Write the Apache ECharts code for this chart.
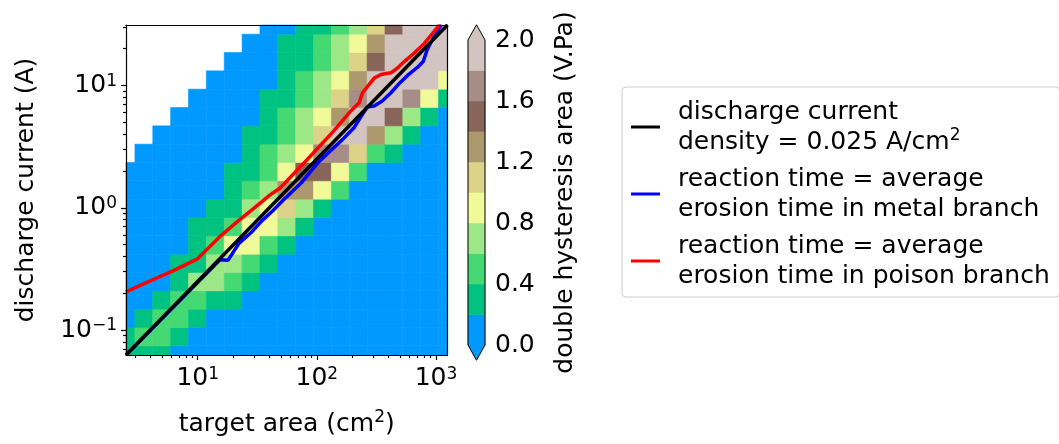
<!DOCTYPE html>
<html>
<head>
<meta charset="utf-8">
<script src="https://cdn.jsdelivr.net/npm/echarts@6/dist/echarts.min.js"></script>
<style>
html, body { margin: 0; padding: 0; background: #fff; }
#chart { width: 1059px; height: 444px; }
</style>
</head>
<body>
<div id="chart"></div>
<script>
'use strict';

// centres of the map cells: target area (cm2) and discharge current (A)
const areaCentres = [2.5, 3.531, 4.987, 7.043, 9.947, 14.05, 19.84, 28.02, 39.58, 55.90,
    78.95, 111.5, 157.5, 222.4, 314.1, 443.6, 626.6, 884.9, 1250];
const currentCentres = [0.0625, 0.08827, 0.1247, 0.1761, 0.2487, 0.3512, 0.4961, 0.7006, 0.9895, 1.398,
    1.974, 2.788, 3.937, 5.560, 7.853, 11.09, 15.66, 22.12, 31.25];

// double hysteresis area (V.Pa), one row per current, lowest current first; null = no data
const hysteresis = [
    [0.3, 0.3, 0.3, 0.1, 0.1, 0.1, 0.1, 0.1, 0.1, 0.1, 0.1, 0.1, 0.1, 0.1, 0.1, 0.1, 0.1, 0.1, 0.1],
    [0.3, 0.5, 0.5, 0.3, 0.1, 0.1, 0.1, 0.1, 0.1, 0.1, 0.1, 0.1, 0.1, 0.1, 0.1, 0.1, 0.1, 0.1, 0.1],
    [0.1, 0.3, 0.5, 0.5, 0.3, 0.1, 0.1, 0.1, 0.1, 0.1, 0.1, 0.1, 0.1, 0.1, 0.1, 0.1, 0.1, 0.1, 0.1],
    [0.1, 0.1, 0.3, 0.5, 0.5, 0.3, 0.3, 0.1, 0.1, 0.1, 0.1, 0.1, 0.1, 0.1, 0.1, 0.1, 0.1, 0.1, 0.1],
    [0.1, 0.1, 0.1, 0.3, 0.7, 0.7, 0.5, 0.3, 0.1, 0.1, 0.1, 0.1, 0.1, 0.1, 0.1, 0.1, 0.1, 0.1, 0.1],
    [0.1, 0.1, 0.1, 0.3, 0.3, 0.7, 0.7, 0.5, 0.3, 0.1, 0.1, 0.1, 0.1, 0.1, 0.1, 0.1, 0.1, 0.1, 0.1],
    [0.1, 0.1, 0.1, 0.1, 0.3, 0.5, 0.9, 0.9, 0.5, 0.3, 0.1, 0.1, 0.1, 0.1, 0.1, 0.1, 0.1, 0.1, 0.1],
    [0.1, 0.1, 0.1, 0.1, 0.3, 0.3, 0.5, 0.9, 0.9, 0.7, 0.3, 0.1, 0.1, 0.1, 0.1, 0.1, 0.1, 0.1, 0.1],
    [0.1, 0.1, 0.1, 0.1, 0.1, 0.3, 0.3, 0.7, 0.9, 1.1, 0.7, 0.3, 0.1, 0.1, 0.1, 0.1, 0.1, 0.1, 0.1],
    [0.1, 0.1, 0.1, 0.1, 0.1, 0.1, 0.3, 0.5, 0.7, 1.3, 1.3, 0.9, 0.5, 0.1, 0.1, 0.1, 0.1, 0.1, 0.1],
    [0.1, 0.1, 0.1, 0.1, 0.1, 0.1, 0.3, 0.3, 0.5, 0.9, 1.5, 1.5, 0.9, 0.5, 0.1, 0.1, 0.1, 0.1, 0.1],
    [null, 0.1, 0.1, 0.1, 0.1, 0.1, 0.1, 0.3, 0.5, 0.7, 0.9, 1.7, 1.7, 1.1, 0.5, 0.3, 0.1, 0.1, 0.1],
    [null, null, 0.1, 0.1, 0.1, 0.1, 0.1, 0.3, 0.3, 0.5, 0.7, 1.1, 1.9, 1.9, 1.3, 0.7, 0.3, 0.1, 0.1],
    [null, null, null, 0.1, 0.1, 0.1, 0.1, 0.1, 0.3, 0.5, 0.7, 0.9, 1.3, 1.9, 1.9, 1.5, 0.7, 0.3, 0.1],
    [null, null, null, null, 0.1, 0.1, 0.1, 0.1, 0.3, 0.3, 0.5, 0.7, 1.1, 1.7, 1.9, 1.9, 1.7, 0.9, 0.3],
    [null, null, null, null, null, 0.1, 0.1, 0.1, 0.1, 0.3, 0.5, 0.7, 0.9, 1.3, 1.9, 1.9, 1.9, 1.9, 0.9],
    [null, null, null, null, null, null, 0.1, 0.1, 0.1, 0.3, 0.3, 0.5, 0.7, 1.1, 1.5, 1.9, 2.0, 2.1, 2.0],
    [null, null, null, null, null, null, null, 0.1, 0.1, 0.3, 0.3, 0.5, 0.7, 0.9, 1.3, 1.9, 2.1, 2.2, 2.1],
    [null, null, null, null, null, null, null, null, 0.1, 0.1, 0.3, 0.3, 0.5, 0.7, 1.1, 1.5, 1.9, 2.2, 2.3],
];

// colour levels of the map
const levels = [0, 0.2, 0.4, 0.6, 0.8, 1.0, 1.2, 1.4, 1.6, 1.8, 2.0];
const levelColors = ['#0099ff', '#00c281', '#44d973', '#9de886', '#f0fa98',
    '#dcd288', '#ae986e', '#876558', '#a68d87', '#d2c5c1'];

// lines
const densityArea = [2.5, 1250];
const densityCurrent = [0.0625, 31.25];
const metalArea = [2.5, 15.4, 18.0, 22.2, 28.1, 34.7, 42.7, 52.1, 62.8, 73.8, 101, 131, 164, 206,
    240, 265, 303, 354, 419, 492, 577, 701, 782, 845, 913, 1006, 1108];
const metalCurrent = [0.0625, 0.376, 0.373, 0.512, 0.628, 0.785, 0.946, 1.15, 1.373, 1.593, 2.31, 2.94,
    3.61, 4.54, 5.76, 6.68, 6.81, 7.47, 8.72, 10.4, 12.1, 14.1, 15.7, 19.7, 22.8, 27.0, 31.3];
const poisonArea = [2.5, 3.54, 6.32, 9.87, 15.1, 21.0, 29.2, 40.5, 49.2, 82.4, 137, 193, 227, 242,
    303, 345, 419, 476, 542, 657, 798, 936, 1066];
const poisonCurrent = [0.2054, 0.2398, 0.3076, 0.3798, 0.572, 0.756, 0.981, 1.274, 1.451, 2.458, 4.20,
    6.20, 7.24, 8.72, 11.5, 12.3, 12.7, 13.9, 15.7, 18.4, 22.1, 26.7, 31.2];

// ticks
const areaTicks = [10, 100, 1000];
const currentTicks = [0.1, 1, 10];

const seriesNames = ['density', 'metal', 'poison'];
const legendLabels = [
    'discharge current\ndensity = 0.025 A/cm{sup|2}',
    'reaction time = average\nerosion time in metal branch',
    'reaction time = average\nerosion time in poison branch',
];

const FONT = 'DejaVu Sans';
const supStyle = { fontSize: 17, fontFamily: FONT, color: '#000', verticalAlign: 'top', lineHeight: 17 };

function minorTicks(lo, hi) {
    const out = [];
    for (let e = Math.floor(Math.log10(lo)); e <= Math.ceil(Math.log10(hi)); e++) {
        for (let m = 2; m <= 9; m++) {
            const v = m * Math.pow(10, e);
            if (v > lo && v < hi) out.push(v);
        }
    }
    return out;
}

function powerLabel(v) {
    const e = Math.round(Math.log10(v));
    return '10{sup|' + (e < 0 ? '\u2212' + (-e) : e) + '}';
}

function levelColor(v) {
    let i = Math.floor(v / 0.2 + 1e-9);
    i = Math.max(0, Math.min(levelColors.length - 1, i));
    return levelColors[i];
}

const cells = [];
hysteresis.forEach(function (row, j) {
    row.forEach(function (v, i) {
        if (v !== null) cells.push([areaCentres[i], currentCentres[j], v]);
    });
});

function zip(a, b) {
    return a.map(function (v, i) { return [v, b[i]]; });
}

const xMin = areaCentres[0], xMax = areaCentres[areaCentres.length - 1];
const yMin = currentCentres[0], yMax = currentCentres[currentCentres.length - 1];

const axisLineStyle = { color: '#000', width: 1.2 };
const tickStyle = { color: '#000', width: 1.2 };
const labelBase = { fontFamily: FONT, fontSize: 25, color: '#000', rich: { sup: supStyle } };

const chart = echarts.init(document.getElementById('chart'));

chart.setOption({
    animation: false,
    backgroundColor: '#fff',
    grid: [
        { left: 126, top: 25, width: 321.5, height: 334 },
        { left: 468, top: 40, width: 17, height: 305 },
    ],
    xAxis: [
        {
            gridIndex: 0, type: 'log', min: xMin, max: xMax, position: 'bottom', z: 10,
            axisLine: { show: true, lineStyle: axisLineStyle },
            axisTick: { show: true, customValues: areaTicks, length: 5, lineStyle: tickStyle },
            axisLabel: Object.assign({ customValues: areaTicks, margin: 11, formatter: powerLabel }, labelBase),
            splitLine: { show: false },
            name: 'target area (cm{sup|2})', nameLocation: 'middle', nameGap: 54,
            nameTextStyle: Object.assign({ lineHeight: 30 }, labelBase),
        },
        {
            gridIndex: 0, type: 'log', min: xMin, max: xMax, position: 'bottom', z: 10,
            axisLine: { show: false },
            axisTick: { show: true, customValues: minorTicks(xMin, xMax), length: 3, lineStyle: tickStyle },
            axisLabel: { show: false }, splitLine: { show: false },
        },
        {
            gridIndex: 0, type: 'log', min: xMin, max: xMax, position: 'top', z: 10,
            axisLine: { show: true, lineStyle: axisLineStyle },
            axisTick: { show: false }, axisLabel: { show: false }, splitLine: { show: false },
        },
        { gridIndex: 1, type: 'value', min: 0, max: 1, show: false },
    ],
    yAxis: [
        {
            gridIndex: 0, type: 'log', min: yMin, max: yMax, position: 'left', z: 10,
            axisLine: { show: true, lineStyle: axisLineStyle },
            axisTick: { show: true, customValues: currentTicks, length: 5, lineStyle: tickStyle },
            axisLabel: Object.assign({ customValues: currentTicks, margin: 9, formatter: powerLabel }, labelBase),
            splitLine: { show: false },
            name: 'discharge current (A)', nameLocation: 'middle', nameGap: 87, nameRotate: 90,
            nameTextStyle: labelBase,
        },
        {
            gridIndex: 0, type: 'log', min: yMin, max: yMax, position: 'left', z: 10,
            axisLine: { show: false },
            axisTick: { show: true, customValues: minorTicks(yMin, yMax), length: 3, lineStyle: tickStyle },
            axisLabel: { show: false }, splitLine: { show: false },
        },
        {
            gridIndex: 0, type: 'log', min: yMin, max: yMax, position: 'right', z: 10,
            axisLine: { show: true, lineStyle: axisLineStyle },
            axisTick: { show: false }, axisLabel: { show: false }, splitLine: { show: false },
        },
        {
            gridIndex: 1, type: 'value', min: 0, max: 2, interval: 0.4, position: 'right',
            axisLine: { show: false },
            axisTick: { show: true, length: 5, lineStyle: tickStyle },
            axisLabel: Object.assign({ margin: 10, formatter: function (v) { return v.toFixed(1); } }, labelBase),
            splitLine: { show: false },
            name: 'double hysteresis area (V.Pa)', nameLocation: 'middle', nameGap: 68, nameRotate: 90,
            nameTextStyle: labelBase,
        },
    ],
    legend: {
        data: seriesNames,
        orient: 'vertical', left: 622, top: 87,
        icon: 'rect', itemWidth: 29, itemHeight: 3, itemGap: 7,
        padding: [10, 10, 6, 9],
        borderColor: '#cccccc', borderWidth: 1, borderRadius: 4,
        selectedMode: false,
        formatter: function (name) { return legendLabels[seriesNames.indexOf(name)]; },
        textStyle: { fontFamily: FONT, fontSize: 25, color: '#000', lineHeight: 30,
            padding: [0, 0, 0, 13], rich: { sup: supStyle } },
    },
    series: [
        {
            type: 'custom', name: 'map', xAxisIndex: 0, yAxisIndex: 0, z: 1,
            data: cells,
            renderItem: function (params, api) {
                const hx = Math.sqrt(areaCentres[1] / areaCentres[0]);
                const hy = Math.sqrt(currentCentres[1] / currentCentres[0]);
                const x = api.value(0), y = api.value(1);
                const a = api.coord([x / hx, y * hy]);
                const b = api.coord([x * hx, y / hy]);
                const cs = params.coordSys;
                const rect = echarts.graphic.clipRectByRect(
                    { x: a[0], y: a[1], width: b[0] - a[0], height: b[1] - a[1] },
                    { x: cs.x, y: cs.y, width: cs.width, height: cs.height });
                if (!rect) return;
                const c = levelColor(api.value(2));
                return { type: 'rect', shape: rect, style: { fill: c, stroke: c, lineWidth: 0.6 } };
            },
        },
        {
            type: 'line', name: 'metal', xAxisIndex: 0, yAxisIndex: 0, z: 3,
            data: zip(metalArea, metalCurrent), showSymbol: false, symbol: 'none',
            lineStyle: { color: '#0000ff', width: 3.5 }, itemStyle: { color: '#0000ff' },
        },
        {
            type: 'line', name: 'poison', xAxisIndex: 0, yAxisIndex: 0, z: 3,
            data: zip(poisonArea, poisonCurrent), showSymbol: false, symbol: 'none',
            lineStyle: { color: '#ff0000', width: 3.5 }, itemStyle: { color: '#ff0000' },
        },
        {
            type: 'line', name: 'density', xAxisIndex: 0, yAxisIndex: 0, z: 4,
            data: zip(densityArea, densityCurrent), showSymbol: false, symbol: 'none',
            lineStyle: { color: '#000000', width: 3.5 }, itemStyle: { color: '#000000' },
        },
        {
            // colour bar bands and extension triangles
            type: 'custom', name: 'colorbar', xAxisIndex: 3, yAxisIndex: 3, z: 2,
            data: levels.slice(0, -1).map(function (lo, i) { return [lo, levels[i + 1], i]; }),
            renderItem: function (params, api) {
                const lo = api.value(0), hi = api.value(1), i = api.value(2);
                const a = api.coord([0, hi]);
                const b = api.coord([1, lo]);
                const children = [{ type: 'rect', shape: { x: a[0], y: a[1], width: b[0] - a[0], height: b[1] - a[1] },
                    style: { fill: levelColors[i], stroke: levelColors[i], lineWidth: 0.5 } }];
                const ext = 0.05 * (levels[levels.length - 1] - levels[0]);
                if (i === 0) {
                    children.push({ type: 'polygon', shape: { points: [api.coord([0, lo]), api.coord([1, lo]), api.coord([0.5, lo - ext])] },
                        style: { fill: levelColors[i] } });
                }
                if (i === levelColors.length - 1) {
                    children.push({ type: 'polygon', shape: { points: [api.coord([0, hi]), api.coord([1, hi]), api.coord([0.5, hi + ext])] },
                        style: { fill: levelColors[i] } });
                }
                return { type: 'group', children: children };
            },
        },
        {
            // colour bar outline
            type: 'custom', name: 'colorbar-outline', xAxisIndex: 3, yAxisIndex: 3, z: 3,
            data: [[levels[0], levels[levels.length - 1]]],
            renderItem: function (params, api) {
                const lo = api.value(0), hi = api.value(1);
                const ext = 0.05 * (hi - lo);
                return {
                    type: 'polygon',
                    shape: { points: [api.coord([0, lo]), api.coord([0.5, lo - ext]), api.coord([1, lo]),
                        api.coord([1, hi]), api.coord([0.5, hi + ext]), api.coord([0, hi])] },
                    style: { fill: null, stroke: '#000', lineWidth: 1 },
                };
            },
        },
    ],
});
</script>
</body>
</html>
